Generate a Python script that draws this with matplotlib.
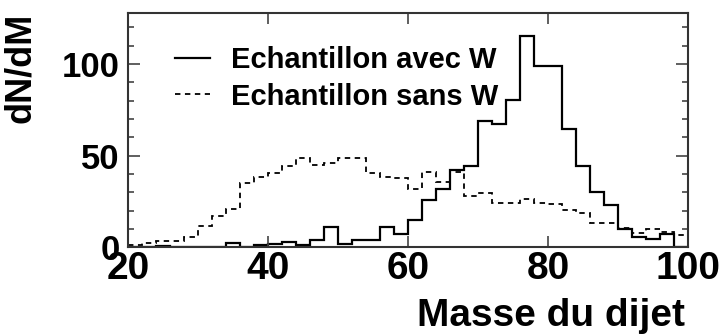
import numpy as np
import matplotlib
matplotlib.use('Agg')
import matplotlib.pyplot as plt
from matplotlib.ticker import MultipleLocator

plt.rcParams['font.family'] = ['Liberation Sans', 'DejaVu Sans']
plt.rcParams['font.weight'] = 'bold'

# dijet mass bins, 2 units wide from 20 to 100
bin_edges = np.linspace(20, 100, 41)

avec_w = [0, 0, 0.6, 0, 0, 0, 0, 2.2, 0.4, 1.0,
          1.6, 2.9, 1.0, 4.2, 10.8, 1.8, 4.2, 4.2, 10.8, 7.0,
          14.8, 26.0, 32.0, 42.0, 44.2, 68.9, 67.1, 80.4, 115.0, 99.0,
          99.0, 64.5, 44.4, 30.2, 23.0, 10.2, 5.7, 4.6, 7.2, 0]
sans_w = [1.0, 2.2, 3.5, 3.5, 5.8, 11.5, 16.8, 21.1, 35.0, 38.2,
          40.5, 44.2, 48.6, 45.0, 46.0, 48.5, 48.5, 40.6, 38.6, 37.8,
          32.0, 40.8, 35.8, 41.0, 28.2, 29.6, 24.4, 24.4, 26.2, 24.0,
          23.4, 20.6, 18.7, 13.5, 13.5, 10.6, 7.8, 10.0, 8.4, 6.8]

fig = plt.figure(figsize=(7.22, 3.36), dpi=100)
ax = fig.add_axes([0.1773, 0.2640, 0.7756, 0.6973])

ax.stairs(avec_w, bin_edges, baseline=None, color='black', lw=1.6,
          label='Echantillon avec W')
ax.stairs(sans_w, bin_edges, baseline=None, color='black', lw=1.3,
          linestyle=(0, (3, 2.5)), label='Echantillon sans W')

ax.set_xlim(20, 100)
ax.set_ylim(0, 127.8)

ax.xaxis.set_major_locator(MultipleLocator(20))
ax.yaxis.set_major_locator(MultipleLocator(50))
ax.yaxis.set_minor_locator(MultipleLocator(10))
ax.tick_params(which='both', direction='in', top=True, right=True,
               color='#444444', width=1.2)
ax.tick_params(axis='x', which='major', length=8, labelsize=28, pad=3)
ax.tick_params(axis='y', which='major', length=8.5, labelsize=25, pad=6)
ax.tick_params(axis='y', which='minor', length=4.5)
for lbl in ax.get_xticklabels() + ax.get_yticklabels():
    lbl.set_fontweight('bold')

for sp in ax.spines.values():
    sp.set_linewidth(1.5)
    sp.set_color('#333333')

ax.set_xlabel('Masse du dijet', fontsize=28, fontweight='bold', loc='right')
ax.xaxis.set_label_coords(0.995, -0.215)
ax.set_ylabel('dN/dM', fontsize=26, fontweight='bold', loc='top')
ax.yaxis.set_label_coords(-0.16, 1.0)

ax.legend(loc='upper left', bbox_to_anchor=(0.084, 0.86), frameon=False,
          fontsize=21, handlelength=1.2, handletextpad=0.72,
          labelspacing=0.3, borderaxespad=0, borderpad=0)

plt.savefig('out.png', dpi=100)
